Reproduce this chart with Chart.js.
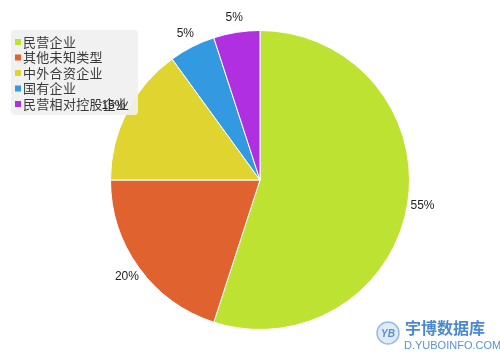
<!DOCTYPE html>
<html>
<head>
<meta charset="utf-8">
<script src="https://cdn.jsdelivr.net/npm/chart.js@4"></script>
<style>
  html, body { margin: 0; padding: 0; background: #fff; }
  #wrap { width: 500px; height: 360px; position: relative; }
</style>
</head>
<body>
<div id="wrap"><canvas id="pieChart" width="500" height="360"></canvas></div>
<script>
const categories = ['民营企业', '其他未知类型', '中外合资企业', '国有企业', '民营相对控股企业'];
const shares = [55, 20, 15, 5, 5];
const sliceColors = ['#bde232', '#e0622e', '#e0d430', '#3399e0', '#b02fe0'];

// legend box drawn over the pie, then labels on top
const overlayPlugin = {
    id: 'overlay',
    afterDatasetsDraw(chart) {
        const ctx = chart.ctx;
        ctx.save();
        ctx.fillStyle = 'rgba(240,240,240,0.92)';
        ctx.beginPath();
        ctx.roundRect(11, 30, 127, 85, 4);
        ctx.fill();
        ctx.font = '13px "Noto Sans CJK SC", sans-serif';
        ctx.letterSpacing = '0.3px';
        ctx.textBaseline = 'middle';
        categories.forEach((name, i) => {
            const y = 42 + i * 15.5;
            ctx.fillStyle = sliceColors[i];
            ctx.fillRect(15, y - 3, 6, 6);
            ctx.fillStyle = '#3a3a3a';
            ctx.fillText(name, 23, y);
        });
        ctx.restore();
    },
    afterDraw(chart) {
        const ctx = chart.ctx;
        const meta = chart.getDatasetMeta(0);
        ctx.save();
        ctx.font = '12px "Liberation Sans", Arial, sans-serif';
        ctx.fillStyle = '#222';
        ctx.textAlign = 'center';
        ctx.textBaseline = 'middle';
        meta.data.forEach((arc, i) => {
            const mid = (arc.startAngle + arc.endAngle) / 2;
            const r = arc.outerRadius + 15;
            ctx.fillText(shares[i] + '%', arc.x + Math.cos(mid) * r, arc.y + Math.sin(mid) * r);
        });

        // watermark
        ctx.strokeStyle = 'rgba(90,150,215,0.6)';
        ctx.fillStyle = 'rgba(150,190,235,0.3)';
        ctx.lineWidth = 1.5;
        ctx.beginPath();
        ctx.arc(388, 333, 11, 0, Math.PI * 2);
        ctx.fill();
        ctx.stroke();
        ctx.fillStyle = '#5b8fcc';
        ctx.font = 'italic bold 10px "Liberation Sans", sans-serif';
        ctx.fillText('YB', 388, 334);
        ctx.textAlign = 'left';
        ctx.fillStyle = '#4a88cf';
        ctx.font = 'bold 16px "Noto Sans CJK SC", sans-serif';
        ctx.fillText('宇博数据库', 405, 328);
        ctx.font = '11px "Liberation Sans", sans-serif';
        ctx.fillStyle = '#5a92d0';
        ctx.fillText('D.YUBOINFO.COM', 404, 346);
        ctx.restore();
    }
};

new Chart(document.getElementById('pieChart').getContext('2d'), {
    type: 'pie',
    data: {
        labels: categories,
        datasets: [{
            data: shares,
            backgroundColor: sliceColors,
            borderColor: '#fff',
            borderWidth: 1
        }]
    },
    options: {
        responsive: false,
        animation: false,
        layout: { padding: { left: 110, right: 90, top: 30, bottom: 30 } },
        plugins: {
            legend: { display: false },
            tooltip: { enabled: false }
        }
    },
    plugins: [overlayPlugin]
});
</script>
</body>
</html>
